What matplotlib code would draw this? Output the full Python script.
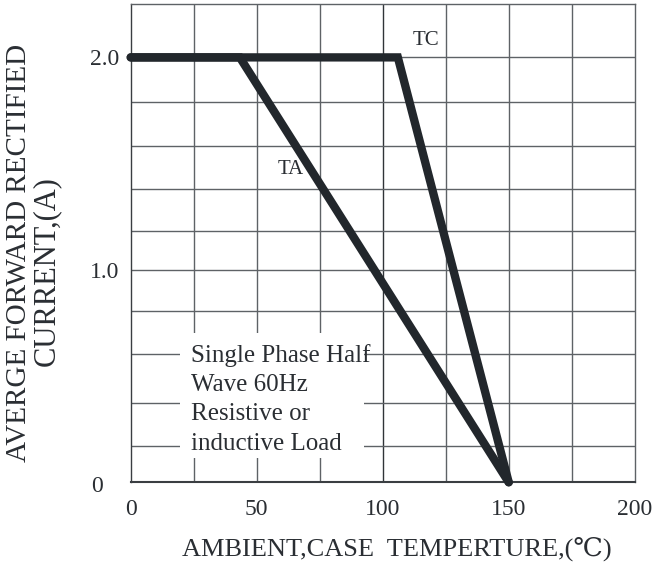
import matplotlib
matplotlib.use('Agg')
import matplotlib.pyplot as plt
from matplotlib.patches import Rectangle

plt.rcParams['font.family'] = ['Liberation Serif', 'DejaVu Serif', 'DejaVu Sans']

# derating curves (temperature in C, current in A)
temp_ta = [0, 43.3, 150]
cur_ta = [2.0, 2.0, 0.0]
temp_tc = [0, 106, 150]
cur_tc = [2.0, 2.0, 0.0]

xticks = [0, 50, 100, 150, 200]
xtick_labels = ['0', '50', '100', '150', '200']
ytick_vals = [1.0, 2.0]
ytick_labels = ['1.0', '2.0']
vgrid = [25, 50, 75, 100, 125, 150, 175]
hgrid = [0.172, 0.375, 0.604, 0.804, 1.0, 1.184, 1.381, 1.581, 1.788, 2.0]
note_lines = ['Single Phase Half', 'Wave 60Hz', 'Resistive or', 'inductive Load']
note_y = [0.568, 0.430, 0.293, 0.152]

txt = '#2a2e33'
dark = '#22272c'
gridc = '#5e6266'

fig = plt.figure(figsize=(6.52, 5.70), dpi=100)
ax = fig.add_axes([0.2005, 0.1539, 0.773, 0.8386])
ax.set_xlim(0, 200)
ax.set_ylim(0, 2.25)

for v in vgrid:
    c = '#303438' if v == 100 else gridc
    ax.axvline(v, color=c, lw=1.0, zorder=1)
for h in hgrid:
    ax.axhline(h, color=gridc, lw=1.0, zorder=1)

for s in ax.spines.values():
    s.set_color(gridc)
    s.set_linewidth(1.0)
ax.spines['bottom'].set_color('#3a3e42')
ax.spines['bottom'].set_linewidth(1.5)
ax.spines['left'].set_color('#3a3e42')

# white box behind the note
ax.add_patch(Rectangle((19.5, 0.114), 73.2, 0.589, facecolor='white',
                       edgecolor='none', zorder=2))
for line, yy in zip(note_lines, note_y):
    ax.text(23.8, yy, line, fontsize=18, color=txt, va='baseline',
            ha='left', zorder=3)

ax.plot(temp_ta, cur_ta, color=dark, lw=6, solid_capstyle='round',
        solid_joinstyle='miter', zorder=4, clip_on=False)
ax.plot(temp_tc, cur_tc, color=dark, lw=6, solid_capstyle='round',
        solid_joinstyle='miter', zorder=4, clip_on=False)

ax.text(63.6, 1.471, 'TA', fontsize=15, color=txt, ha='center', va='center', zorder=5)
ax.text(117, 2.081, 'TC', fontsize=15, color=txt, ha='center', va='center', zorder=5)

ax.set_xticks(xticks)
ax.set_xticklabels(xtick_labels, fontsize=17, color=txt)
ax.set_yticks(ytick_vals)
ax.set_yticklabels(ytick_labels, fontsize=17, color=txt)
ax.tick_params(axis='x', length=0, pad=12)
ax.tick_params(axis='y', length=0, pad=8)
ax.text(-11.0, -0.022, '0', fontsize=17, color=txt, ha='right', va='center')

fig.text(397 / 652, 1 - 549 / 570, 'AMBIENT,CASE  TEMPERTURE,(\u2103)',
         fontsize=19, color=txt, ha='center', va='center')
fig.text(19 / 652, 1 - 253 / 570, 'AVERGE FORWARD RECTIFIED', rotation=90,
         fontsize=21, color=txt, ha='center', va='center')
fig.text(46 / 652, 1 - 271 / 570, 'CURRENT,(A)', rotation=90,
         fontsize=22, color=txt, ha='center', va='center')

fig.savefig('out.png', dpi=100)
